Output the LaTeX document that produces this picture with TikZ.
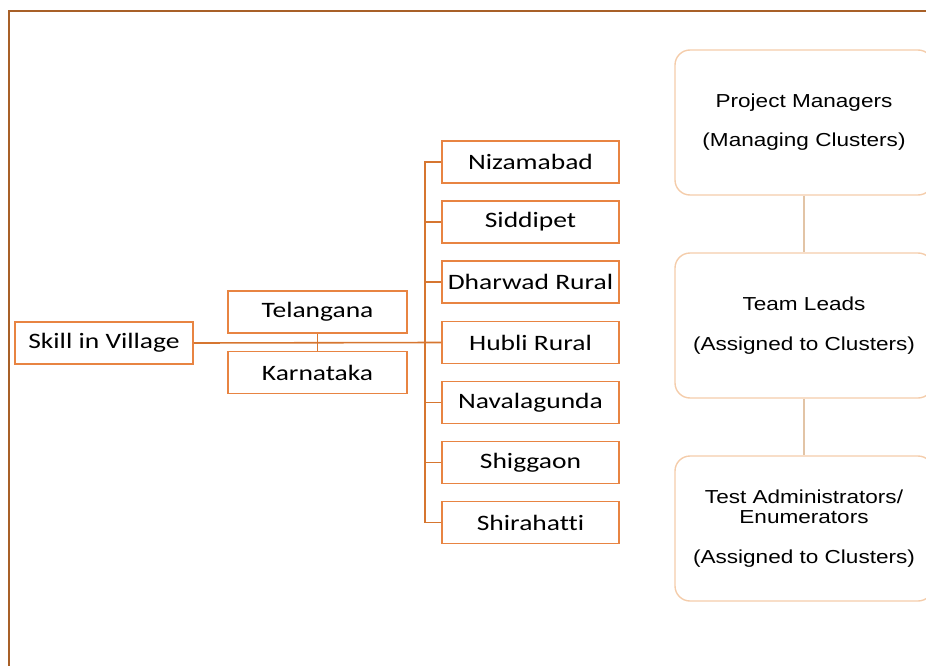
\documentclass[tikz,border=0pt]{standalone}
\usepackage{fontspec}
\setmainfont{Carlito}[FakeStretch=1.25, Ligatures=NoCommon]
\newfontfamily\rolefont{Liberation Sans}[FakeStretch=1.2]
\definecolor{boxorange}{RGB}{232,132,66}
\definecolor{lineorange}{RGB}{214,118,48}
\definecolor{rolepeach}{RGB}{244,204,170}
\definecolor{roletan}{RGB}{226,196,166}
\definecolor{framebrown}{RGB}{168,96,40}
\begin{document}
\begin{tikzpicture}[x=1pt, y=-1pt,
    placebox/.style = {draw=boxorange, line width=1.7pt, inner sep=0pt,
        minimum height=42pt, font=\fontsize{22}{24}\selectfont},
    rolebox/.style = {draw=rolepeach, line width=1.4pt, rounded corners=15pt,
        minimum width=258pt, minimum height=145pt, align=center,
        font=\rolefont\fontsize{18.8}{20.5}\selectfont},
    link/.style = {draw=lineorange, line width=1.6pt},
    rolelink/.style = {draw=roletan, line width=1.2pt}]
    \clip (0,0) rectangle (926,666);
    \draw[framebrown, line width=1.3pt] (9,666) -- (9,11) -- (926,11);
    % left part
    \node[placebox, minimum width=178pt] (skill) at (104,343) {Skill in Village};
    \node[placebox, minimum width=179pt] (telangana) at (317.5,312) {Telangana};
    \node[placebox, minimum width=179pt] (karnataka) at (317.5,372.5) {Karnataka};
    \node[placebox, minimum width=177pt] (nizam) at (530.5,162) {Nizamabad};
    \node[placebox, minimum width=177pt] (sidd) at (530.5,222) {Siddipet};
    \node[placebox, minimum width=177pt] (dharwad) at (530.5,282) {Dharwad Rural};
    \node[placebox, minimum width=177pt] (hubli) at (530.5,342.5) {Hubli Rural};
    \node[placebox, minimum width=177pt] (navala) at (530.5,402.5) {Navalagunda};
    \node[placebox, minimum width=177pt] (shigg) at (530.5,462.5) {Shiggaon};
    \node[placebox, minimum width=177pt] (shira) at (530.5,522.5) {Shirahatti};
    \coordinate (trunk) at (425,343);
    \draw[link] (skill.east) -- (hubli.west);
    \draw[link] (telangana.south) -- (karnataka.north);
    \foreach \n in {nizam,sidd,dharwad,hubli,navala,shigg,shira}
        \draw[link] (\n.west) -| (trunk);
    % roles
    \node[rolebox] (pm) at (804,122.5) {Project Managers\\[18.5pt](Managing Clusters)};
    \node[rolebox] (tl) at (804,325.5) {Team Leads\\[19.5pt](Assigned to Clusters)};
    \node[rolebox] (ta) at (804,528.5) {Test Administrators/\\Enumerators\\[19.5pt](Assigned to Clusters)};
    \draw[rolelink] (pm.south) -- (tl.north);
    \draw[rolelink] (tl.south) -- (ta.north);
\end{tikzpicture}
\end{document}
